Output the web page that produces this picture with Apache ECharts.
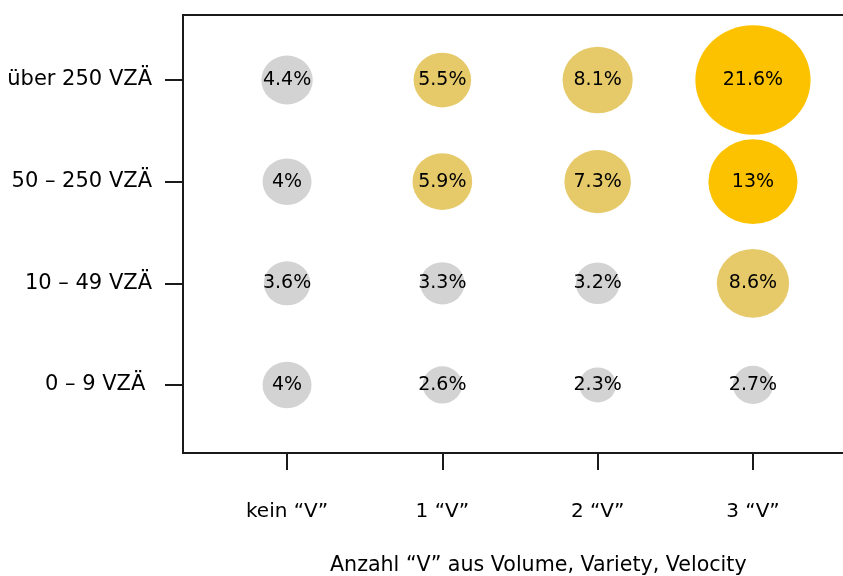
<!DOCTYPE html>
<html>
<head>
<meta charset="utf-8">
<script src="https://cdn.jsdelivr.net/npm/echarts@6/dist/echarts.min.js"></script>
<style>html,body{margin:0;padding:0;background:#fff;}#c{width:843px;height:576px;}</style>
</head>
<body>
<div id="c"></div>
<script>
const xCategories = ['kein “V”', '1 “V”', '2 “V”', '3 “V”'];
const yCategories = ['0 – 9 VZÄ ', '10 – 49 VZÄ', '50 – 250 VZÄ', 'über 250 VZÄ'];
const xTitle = 'Anzahl “V” aus Volume, Variety, Velocity';
// values per row (bottom to top), columns = xCategories
const row0 = [4, 2.6, 2.3, 2.7];
const row1 = [3.6, 3.3, 3.2, 8.6];
const row2 = [4, 5.9, 7.3, 13];
const row3 = [4.4, 5.5, 8.1, 21.6];
// colour class per cell: 0 grey, 1 muted gold, 2 bright gold
const cls0 = [0, 0, 0, 0];
const cls1 = [0, 0, 0, 1];
const cls2 = [0, 1, 1, 2];
const cls3 = [0, 1, 1, 2];
const palette = ['#D3D3D3', '#E6CA6A', '#FCC200'];

const rows = [row0, row1, row2, row3];
const classes = [cls0, cls1, cls2, cls3];
const data = [];
rows.forEach((r, yi) => r.forEach((v, xi) => {
  data.push({ value: [xi, yi, v], itemStyle: { color: palette[classes[yi][xi]], opacity: 1 } });
}));

const FONT = 'DejaVu Sans';
const chart = echarts.init(document.getElementById('c'));
chart.setOption({
  animation: false,
  backgroundColor: '#fff',
  grid: { left: 183, right: -14, top: 15, bottom: 123, outerBoundsMode: 'none', containLabel: false,
    show: true, borderColor: '#1a1a1a', borderWidth: 2, backgroundColor: 'transparent' },
  xAxis: {
    type: 'value', min: -0.67, max: 3.67,
    splitLine: { show: false },
    axisLine: { show: true, onZero: false, lineStyle: { color: '#1a1a1a', width: 2 } },
    axisTick: { show: true, customValues: [0, 1, 2, 3], length: 17, lineStyle: { color: '#1a1a1a', width: 2 } },
    axisLabel: { customValues: [0, 1, 2, 3], margin: 49, color: '#000', fontFamily: FONT, fontSize: 20,
      formatter: v => xCategories[Math.round(v)] }
  },
  yAxis: {
    type: 'value', min: -0.67, max: 3.64,
    splitLine: { show: false },
    axisLine: { show: true, onZero: false, lineStyle: { color: '#1a1a1a', width: 2 } },
    axisTick: { show: true, customValues: [0, 1, 2, 3], length: 18, lineStyle: { color: '#1a1a1a', width: 2 } },
    axisLabel: { customValues: [0, 1, 2, 3], margin: 31, color: '#000', fontFamily: FONT, fontSize: 21,
      formatter: v => yCategories[Math.round(v)] }
  },
  graphic: [{
    type: 'text', left: 330, top: 555,
    style: { text: xTitle, fill: '#000', font: '20.6px "DejaVu Sans"' }
  }],
  series: [{
    type: 'scatter',
    data: data,
    symbol: 'circle',
    symbolSize: val => { const w = 25 * Math.sqrt(val[2]) - 1; return [w, w * 0.95]; },
    itemStyle: { opacity: 1 },
    label: { show: true, position: 'inside', color: '#000', fontFamily: FONT, fontSize: 19,
      formatter: p => p.value[2] + '%' }
  }]
});
</script>
</body>
</html>
